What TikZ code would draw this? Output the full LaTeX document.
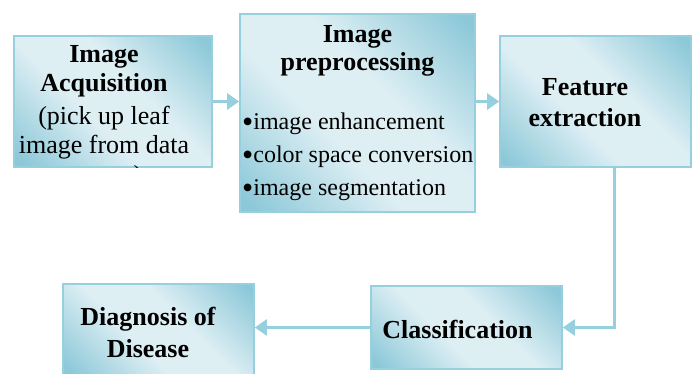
\documentclass[tikz,border=0pt]{standalone}
\usepackage{fontspec}
\setmainfont{Liberation Serif}
\usetikzlibrary{arrows.meta}
\definecolor{boxlight}{RGB}{222,239,244}
\definecolor{boxdark}{RGB}{140,200,216}
\definecolor{boxline}{RGB}{150,208,222}
\pgfdeclarehorizontalshading{tealbox}{100bp}{color(0bp)=(boxdark); color(17bp)=(boxdark); color(42bp)=(boxlight); color(58bp)=(boxlight); color(83bp)=(boxdark); color(100bp)=(boxdark)}
\newcommand\dotmark{{\fontsize{32}{33}\selectfont\raisebox{-2.5pt}{•}}}
\tikzset{
	stage/.style={draw=boxline,line width=1.6pt,shading=tealbox,shading angle=45,inner sep=0pt},
	title/.style={inner sep=0pt,align=center,font=\fontsize{26}{31}\selectfont\bfseries},
	flow/.style={draw=boxline,line width=2.6pt,-{Triangle[length=12pt,width=16pt]}}
}
\begin{document}
\begin{tikzpicture}[x=1pt,y=-1pt]
		\useasboundingbox (0,0) rectangle (694,373);
		\node[stage,minimum width=198pt,minimum height=131pt] (acq) at (113,101.5) {};
		\node[stage,minimum width=235pt,minimum height=198pt] (pre) at (357.5,113) {};
		\node[stage,minimum width=191pt,minimum height=131pt] (feat) at (595.5,101.5) {};
		\node[stage,minimum width=191pt,minimum height=83pt] (cls) at (466.5,327.5) {};
		\node[stage,minimum width=191pt,minimum height=92pt] (diag) at (158.5,330) {};
		\begin{scope}
			\clip (acq.south west) rectangle (acq.north east);
			\node[title,anchor=north,font=\fontsize{26}{29.5}\selectfont] (acq text) at (104,45)
				{\textbf{Image}\\\textbf{Acquisition}\\[3pt](pick up leaf\\image from data\\source)};
		\end{scope}
		\node[title,anchor=north,font=\fontsize{26}{28.5}\selectfont\bfseries] (pre text) at (357.5,25) {Image\\preprocessing};
		\node[inner sep=0pt,anchor=north west,align=left,font=\fontsize{24}{33}\selectfont] (pre list) at (242,113)
			{\dotmark image enhancement\\\dotmark color space conversion\\\dotmark image segmentation};
		\node[title] (feat text) at (585,102.5) {Feature\\extraction};
		\node[title] (cls text) at (457.5,329) {Classification};
		\node[title,font=\fontsize{26}{32}\selectfont\bfseries] (diag text) at (148,332.5) {Diagnosis of\\Disease};
		\draw[flow] (acq.east) -- (acq.east -| pre.west);
		\draw[flow] (pre.east |- feat.west) -- (feat.west);
		\draw[flow] ([xshift=19pt]feat.south) |- (cls.east);
		\draw[flow] (cls.west) -- (cls.west -| diag.east);
	\end{tikzpicture}
\end{document}
